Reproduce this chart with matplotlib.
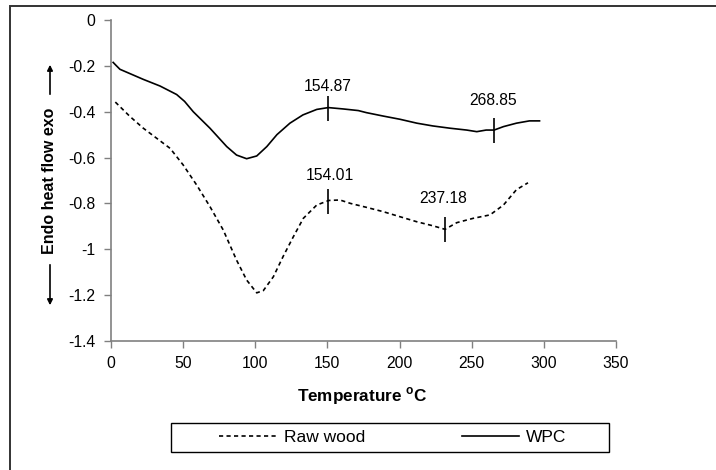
import numpy as np
import matplotlib
matplotlib.use("Agg")
import matplotlib.pyplot as plt
from matplotlib.patches import Rectangle, FancyArrowPatch

plt.rcParams["font.family"] = ["Liberation Sans", "DejaVu Sans"]
plt.rcParams["mathtext.fontset"] = "custom"
plt.rcParams["mathtext.rm"] = "Liberation Sans"
plt.rcParams["mathtext.bf"] = "Liberation Sans:bold"

# WPC curve
wpc_t = [1.5, 3.5, 6.2, 22.4, 34, 45.5, 51, 57, 68.6, 80.2, 87, 94, 101, 108,
         115, 124, 133, 142.6, 150.6, 161, 171.4, 177, 188.7, 200.3, 212, 223,
         235, 246.5, 253.5, 260, 265.5, 272, 281, 290, 297]
wpc_y = [-0.185, -0.198, -0.215, -0.259, -0.288, -0.325, -0.355, -0.40, -0.472,
         -0.552, -0.589, -0.605, -0.593, -0.552, -0.50, -0.45, -0.414, -0.39,
         -0.382, -0.388, -0.395, -0.404, -0.419, -0.433, -0.45, -0.462, -0.472,
         -0.48, -0.487, -0.48, -0.48, -0.465, -0.45, -0.44, -0.44]

# Raw wood curve
raw_t = [3, 13, 22.4, 31.7, 41, 50, 59.4, 68.6, 77.8, 87, 94, 101, 105.6, 112.5,
         119.4, 126.4, 133.3, 142.6, 151, 158.7, 166, 177, 188.7, 200.3, 212,
         223.4, 231.5, 239.6, 251, 262.7, 272, 281, 289]
raw_y = [-0.358, -0.42, -0.472, -0.516, -0.56, -0.632, -0.72, -0.814, -0.916,
         -1.047, -1.134, -1.19, -1.18, -1.12, -1.03, -0.945, -0.865, -0.807,
         -0.787, -0.785, -0.80, -0.817, -0.836, -0.858, -0.88, -0.898, -0.913,
         -0.884, -0.865, -0.85, -0.807, -0.74, -0.71]

# peak markers and their labels
mark_t = [150.6, 265.5, 150.5, 231.5]
mark_y = [-0.382, -0.48, -0.789, -0.913]
mark_lbl = ["154.87", "268.85", "154.01", "237.18"]
lbl_t = [150.5, 264.5, 151.5, 230]
lbl_y = [-0.288, -0.349, -0.68, -0.78]

fig = plt.figure(figsize=(7.16, 4.70), dpi=100)
ax = fig.add_axes([111 / 716, 1 - 341 / 470, 505 / 716, 321 / 470])

# outer frame (only top/left visible in the picture)
fig.patches.append(Rectangle((9.5 / 716, -0.1), 1.2, 1 - 5.5 / 470 + 0.1,
                             transform=fig.transFigure, fill=False,
                             edgecolor="#333333", linewidth=1.4))

raw_line, = ax.plot(raw_t, raw_y, color="black", linewidth=1.2,
                    linestyle=(0, (2.5, 2)), label="Raw wood")
wpc_line, = ax.plot(wpc_t, wpc_y, color="black", linewidth=1.2, label="WPC")

ax.plot(mark_t, mark_y, linestyle="none", marker="|", markersize=18,
        markeredgewidth=1.2, color="black")
for t, y, s in zip(lbl_t, lbl_y, mark_lbl):
    ax.text(t, y, s, ha="center", va="center", fontsize=11.3)

ax.set_xlim(0, 350)
ax.set_ylim(-1.4, 0)
ax.set_xticks(np.arange(0, 351, 50))
ax.set_yticks(np.round(np.arange(-1.4, 0.01, 0.2), 1))
ax.set_yticklabels(["-1.4", "-1.2", "-1", "-0.8", "-0.6", "-0.4", "-0.2", "0"])

for side in ["top", "right"]:
    ax.spines[side].set_visible(False)
for side in ["left", "bottom"]:
    ax.spines[side].set_color("#808080")
    ax.spines[side].set_linewidth(1.2)
ax.tick_params(direction="out", length=5, width=1, color="#808080",
               labelsize=11.3, pad=6)

fig.text(362 / 716, 1 - 396 / 470, r"Temperature $^{\mathbf{o}}$C",
         ha="center", va="center", fontsize=12.3, fontweight="bold")
fig.text(50 / 716, 1 - 181 / 470, "Endo heat flow exo", rotation=90,
         ha="center", va="center", fontsize=11.5, fontweight="bold")

# arrows beside y label
fig.patches.append(FancyArrowPatch(
    (50 / 716, 1 - 97 / 470), (50 / 716, 1 - 62 / 470),
    transform=fig.transFigure, arrowstyle="-|>", mutation_scale=8,
    color="black", linewidth=1.2))
fig.patches.append(FancyArrowPatch(
    (50 / 716, 1 - 262 / 470), (50 / 716, 1 - 308 / 470),
    transform=fig.transFigure, arrowstyle="-|>", mutation_scale=8,
    color="black", linewidth=1.2))

# legend box drawn separately, legend content centred in it
fig.patches.append(Rectangle((171 / 716, 1 - 452 / 470), 438 / 716, 29 / 470,
                             transform=fig.transFigure, fill=False,
                             edgecolor="black", linewidth=1.0))
leg = fig.legend(handles=[raw_line, wpc_line], ncol=2, loc="center",
                 bbox_to_anchor=(393 / 716, 1 - 437.5 / 470),
                 frameon=False, fontsize=12.5, handlelength=3.3,
                 handletextpad=0.4, columnspacing=5.6, borderpad=0,
                 borderaxespad=0)

fig.savefig("out.png", dpi=100)
